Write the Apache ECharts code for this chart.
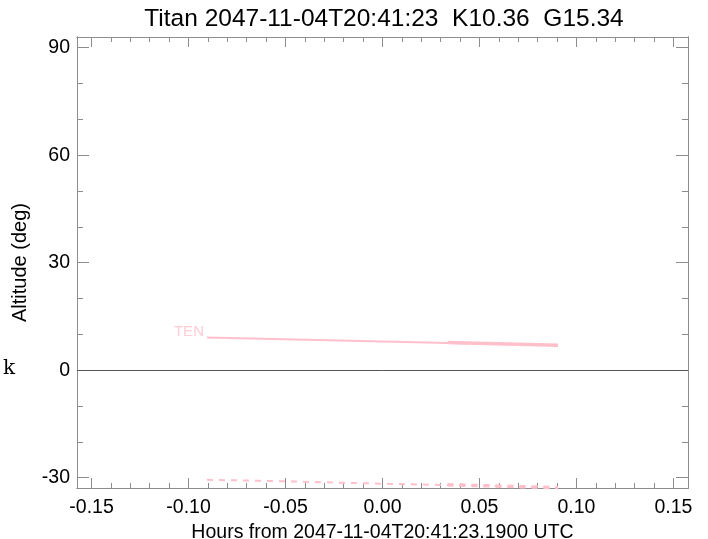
<!DOCTYPE html>
<html>
<head>
<meta charset="utf-8">
<script src="https://cdn.jsdelivr.net/npm/echarts@6/dist/echarts.min.js"></script>
<style>html,body{margin:0;padding:0;background:#fff;overflow:hidden;}#c{width:708px;height:539px;}</style>
</head>
<body>
<div id="c"></div>
<script>
// ---- data ----
var titleText = 'Titan 2047-11-04T20:41:23  K10.36  G15.34';
var xName = 'Hours from 2047-11-04T20:41:23.1900 UTC';
var yName = 'Altitude (deg)';
var xTicks = [-0.15, -0.10, -0.05, 0.00, 0.05, 0.10, 0.15];
var xMinor = [-0.14,-0.13,-0.12,-0.11,-0.09,-0.08,-0.07,-0.06,-0.04,-0.03,-0.02,-0.01,0.01,0.02,0.03,0.04,0.06,0.07,0.08,0.09,0.11,0.12,0.13,0.14];
var yTicks = [-30, 0, 30, 60, 90];
var yMinor = [-20, -10, 10, 20, 40, 50, 70, 80];
var xRange = [-0.1575, 0.1575];
var yRange = [-32.9, 93.0];

var altHours = [-0.0905, -0.045, 0.0, 0.045, 0.0905];
var altDeg   = [9.08, 8.55, 8.0, 7.45, 6.93];
var alt2Hours = [0.0336, 0.0905];
var alt2Deg   = [7.75, 6.93];
var lowHours = [-0.0905, -0.045, 0.0, 0.045, 0.0905];
var lowDeg   = [-30.6, -31.1, -31.7, -32.2, -32.8];
var low2Hours = [0.0336, 0.0905];
var low2Deg   = [-32.0, -32.8];
var lineLabel = 'TEN';
var sideLabel = 'k';

function pairs(xs, ys){ return xs.map(function(x,i){ return [x, ys[i]]; }); }

var axisCol = '#8c8c8c';
var font = 'Liberation Sans, Arial, Helvetica, sans-serif';
var pink = '#ffc0cb';

function xAx(pos, major, labels){
  return {
    type:'value', position:pos, min:xRange[0], max:xRange[1], gridIndex:0,
    axisLine:{show:true, onZero:false, lineStyle:{color:axisCol, width:1}},
    axisTick:{show:true, inside:true, length: major ? 10 : 5, customValues: major ? xTicks : xMinor, lineStyle:{color:axisCol}},
    axisLabel:{show:labels, customValues:xTicks, formatter:function(v){return v.toFixed(2);}, color:'#000', fontSize:19.5, fontFamily:font, margin:10},
    splitLine:{show:false},
    name: labels ? xName : '', nameLocation:'middle', nameGap:25,
    nameTextStyle:{color:'#000', fontSize:19.5, fontFamily:font}
  };
}
function yAx(pos, major, labels){
  return {
    type:'value', position:pos, min:yRange[0], max:yRange[1], gridIndex:0,
    axisLine:{show:true, onZero:false, lineStyle:{color:axisCol, width:1}},
    axisTick:{show:true, inside:true, length: major ? 12 : 6, customValues: major ? yTicks : yMinor, lineStyle:{color:axisCol}},
    axisLabel:{show:labels, customValues:yTicks, color:'#000', fontSize:19.5, fontFamily:font, margin:7},
    splitLine:{show:false},
    name: labels ? yName : '', nameLocation:'middle', nameGap:46, nameRotate:90,
    nameTextStyle:{color:'#000', fontSize:20, fontFamily:font}
  };
}

var chart = echarts.init(document.getElementById('c'), null, {renderer:'canvas', width:708, height:539});
chart.setOption({
  animation:false,
  backgroundColor:'#fff',
  title:{text:titleText, left:379, top:2, textAlign:'center',
    textStyle:{color:'#000', fontSize:24.5, fontWeight:'normal', fontFamily:font}},
  grid:{left:77, width:611, top:37, height:451, containLabel:false, outerBoundsMode:'none'},
  xAxis:[xAx('bottom',true,true), xAx('bottom',false,false), xAx('top',true,false), xAx('top',false,false)],
  yAxis:[yAx('left',true,true), yAx('left',false,false), yAx('right',true,false), yAx('right',false,false)],
  graphic:[{type:'text', left:3, top:359, style:{text:sideLabel, fill:'#000', font:'20px "DejaVu Serif", serif'}}],
  series:[
    {type:'line', xAxisIndex:0, yAxisIndex:0, data:pairs(altHours, altDeg), showSymbol:false, symbol:'none',
      lineStyle:{color:pink, width:2}, silent:true,
      markLine:{silent:true, symbol:['none','none'], label:{show:false}, lineStyle:{color:'#555', width:1, type:'solid'}, data:[{yAxis:0}]},
      label:{show:false}},
    {type:'scatter', xAxisIndex:0, yAxisIndex:0, data:[[altHours[0], altDeg[0]]], symbolSize:0,
      label:{show:true, formatter:lineLabel, position:'left', distance:2, offset:[-1,-6], color:pink, fontSize:15, fontFamily:font}, silent:true},
    {type:'line', xAxisIndex:0, yAxisIndex:0, data:pairs(alt2Hours, alt2Deg), showSymbol:false, symbol:'none',
      lineStyle:{color:pink, width:3.5}, silent:true},
    {type:'line', xAxisIndex:0, yAxisIndex:0, data:pairs(lowHours, lowDeg), showSymbol:false, symbol:'none',
      lineStyle:{color:pink, width:2, type:[6,6]}, silent:true},
    {type:'line', xAxisIndex:0, yAxisIndex:0, data:pairs(low2Hours, low2Deg), showSymbol:false, symbol:'none',
      lineStyle:{color:pink, width:3.5, type:[6,6]}, silent:true}
  ]
});
</script>
</body>
</html>
